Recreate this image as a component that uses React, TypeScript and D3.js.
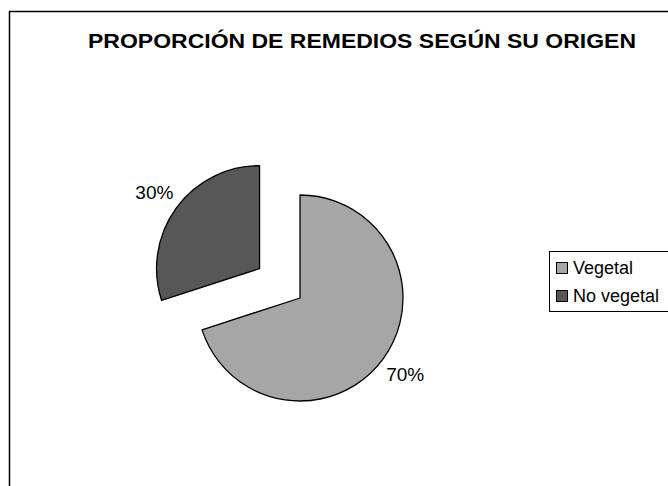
import { useEffect, useRef } from 'react'
import * as d3 from 'd3'

const categories = ['Vegetal', 'No vegetal']
const values = [70, 30]
const colors = ['#a6a6a6', '#575757']

const width = 668
const height = 486

export default function App() {
  const svgRef = useRef<SVGSVGElement>(null)

  useEffect(() => {
    if (!svgRef.current) return
    const svg = d3.select(svgRef.current)
    svg.selectAll('*').remove()

    // chart frame (runs past the right and bottom edges)
    svg.append('rect')
      .attr('x', 9.5)
      .attr('y', 11.5)
      .attr('width', width + 20)
      .attr('height', height + 20)
      .attr('fill', '#fff')
      .attr('stroke', '#000')
      .attr('stroke-width', 1.5)

    svg.append('text')
      .attr('x', 362)
      .attr('y', 48)
      .attr('text-anchor', 'middle')
      .attr('font-family', 'Liberation Sans, Arial, sans-serif')
      .attr('font-weight', 'bold')
      .attr('font-size', 20)
      .attr('textLength', 548)
      .attr('lengthAdjust', 'spacingAndGlyphs')
      .text('PROPORCIÓN DE REMEDIOS SEGÚN SU ORIGEN')

    const cx = 300
    const cy = 298
    const radius = 103
    const explode = [0, 50]

    const pie = d3.pie<number>().sort(null).value(d => d)
    const arcs = pie(values)
    const arc = d3.arc<d3.PieArcDatum<number>>().innerRadius(0).outerRadius(radius)
    const labelArc = d3.arc<d3.PieArcDatum<number>>().innerRadius(130).outerRadius(130)

    const g = svg.append('g').attr('transform', `translate(${cx},${cy})`)
    const total = d3.sum(values)

    arcs.forEach((a, i) => {
      const mid = (a.startAngle + a.endAngle) / 2
      const dx = explode[i] * Math.sin(mid)
      const dy = -explode[i] * Math.cos(mid)
      const sg = g.append('g').attr('transform', `translate(${dx},${dy})`)
      sg.append('path')
        .attr('d', arc(a))
        .attr('fill', colors[i])
        .attr('stroke', '#000')
        .attr('stroke-width', 1.3)
        .attr('stroke-linejoin', 'round')
      const [lx, ly] = labelArc.centroid(a)
      sg.append('text')
        .attr('x', lx)
        .attr('y', ly)
        .attr('text-anchor', 'middle')
        .attr('dominant-baseline', 'central')
        .attr('font-family', 'Liberation Sans, Arial, sans-serif')
        .attr('font-size', 19)
        .text(`${Math.round((a.data / total) * 100)}%`)
    })

    // legend
    const legend = svg.append('g')
    legend.append('rect')
      .attr('x', 549.5)
      .attr('y', 251.5)
      .attr('width', 140)
      .attr('height', 60)
      .attr('fill', '#fff')
      .attr('stroke', '#000')
      .attr('stroke-width', 1)

    categories.forEach((c, i) => {
      const y = 262 + i * 28
      legend.append('rect')
        .attr('x', 556.5)
        .attr('y', y + 0.5)
        .attr('width', 11)
        .attr('height', 11)
        .attr('fill', colors[i])
        .attr('stroke', '#000')
        .attr('stroke-width', 1)
      legend.append('text')
        .attr('x', 573)
        .attr('y', y + 12)
        .attr('font-family', 'Liberation Sans, Arial, sans-serif')
        .attr('font-size', 18)
        .text(c)
    })
  }, [])

  return (
    <svg
      ref={svgRef}
      width={width}
      height={height}
      style={{ position: 'absolute', left: 0, top: 0, display: 'block' }}
    />
  )
}
